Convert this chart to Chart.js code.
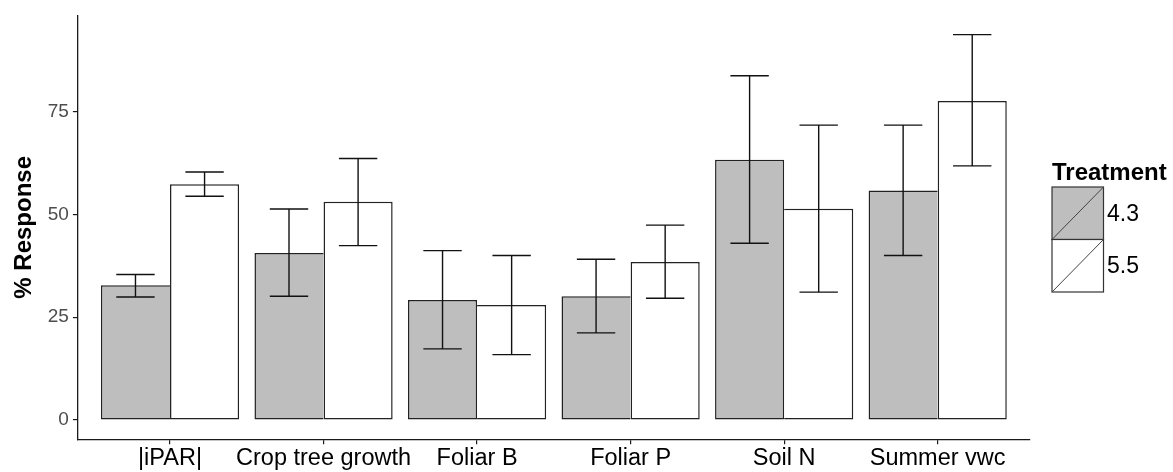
<!DOCTYPE html>
<html><head><meta charset="utf-8">
<style>html,body{margin:0;padding:0;background:#fff;overflow:hidden}#wrap{width:1173px;height:472px;position:relative}</style>
<script src="https://cdn.jsdelivr.net/npm/chart.js@4"></script>
</head><body><div id="wrap"><canvas id="c" width="1173" height="472"></canvas></div>
<script>
// ---- data ----
const categories = ['|iPAR|', 'Crop tree growth', 'Foliar B', 'Foliar P', 'Soil N', 'Summer vwc'];
const treatments = ['4.3', '5.5'];
const resp43 = [32.8, 40.6, 29.2, 30.1, 63.3, 55.8];
const lo43   = [29.9, 30.1, 17.3, 21.2, 43.0, 40.0];
const hi43   = [35.4, 51.3, 41.2, 39.1, 83.7, 71.7];
const resp55 = [57.3, 53.1, 28.0, 38.4, 51.4, 77.6];
const lo55   = [54.4, 42.4, 15.9, 29.6, 31.1, 61.8];
const hi55   = [60.3, 63.6, 40.0, 47.4, 71.7, 93.7];
const yTicks = [0, 25, 50, 75];
const yMin = -4.685, yMax = 98.385;

const FONT = "'Liberation Sans', Arial, sans-serif";
const AX = '#1a1a1a';
const BW = 1.5;

function pts(vals){ return vals.map((v,i)=>({x:i+1, y:v})); }

// the shorter bar of each pair leaves its shared edge to the taller one
function borderFor(ctx){
  const i = ctx.dataIndex, d = ctx.datasetIndex;
  const a = resp43[i], b = resp55[i];
  if (d === 0) return { top: BW, left: BW, bottom: BW, right: a >= b ? BW : 0 };
  return { top: BW, right: BW, bottom: BW, left: b > a ? BW : 0 };
}

const errorBars = {
  id: 'errorBars',
  afterDatasetsDraw(chart){
    const ctx = chart.ctx, xs = chart.scales.x, ys = chart.scales.y;
    const half = (xs.getPixelForValue(1.125) - xs.getPixelForValue(1));
    ctx.save();
    ctx.strokeStyle = '#111';
    ctx.lineWidth = 1.4;
    chart.data.datasets.forEach((ds, di) => {
      const meta = chart.getDatasetMeta(di);
      meta.data.forEach((bar, i) => {
        const cx = bar.x;
        const yl = ys.getPixelForValue(ds.errLo[i]);
        const yh = ys.getPixelForValue(ds.errHi[i]);
        ctx.beginPath();
        ctx.moveTo(cx, yl); ctx.lineTo(cx, yh);
        ctx.moveTo(cx - half, yl); ctx.lineTo(cx + half, yl);
        ctx.moveTo(cx - half, yh); ctx.lineTo(cx + half, yh);
        ctx.stroke();
      });
    });
    ctx.restore();
  }
};

const legendPlugin = {
  id: 'ggLegend',
  afterDraw(chart){
    const ctx = chart.ctx;
    ctx.save();
    ctx.fillStyle = '#000';
    ctx.font = `bold 24px ${FONT}`;
    ctx.textBaseline = 'alphabetic';
    ctx.textAlign = 'left';
    ctx.fillText('Treatment', 1052, 180);
    const kx = 1052, kw = 51.5, kh = 52.5;
    let ky = 187;
    chart.data.datasets.forEach((ds) => {
      ctx.fillStyle = ds.backgroundColor;
      ctx.fillRect(kx, ky, kw, kh);
      ctx.strokeStyle = '#333';
      ctx.lineWidth = 1.2;
      ctx.strokeRect(kx, ky, kw, kh);
      ctx.beginPath();
      ctx.lineWidth = 1;
      ctx.strokeStyle = '#444';
      ctx.moveTo(kx, ky + kh); ctx.lineTo(kx + kw, ky);
      ctx.stroke();
      ctx.fillStyle = '#000';
      ctx.font = `23px ${FONT}`;
      ctx.textBaseline = 'middle';
      ctx.fillText(ds.label, 1107, ky + kh/2 + 1);
      ky += kh;
    });
    ctx.restore();
  }
};

new Chart(document.getElementById('c'), {
  type: 'bar',
  data: {
    datasets: [
      { label: treatments[0], data: pts(resp43), errLo: lo43, errHi: hi43,
        backgroundColor: '#bebebe', borderColor: '#222', borderWidth: borderFor, borderSkipped: false,
        categoryPercentage: 0.9, barPercentage: 1.0 },
      { label: treatments[1], data: pts(resp55), errLo: lo55, errHi: hi55,
        backgroundColor: '#ffffff', borderColor: '#222', borderWidth: borderFor, borderSkipped: false,
        categoryPercentage: 0.9, barPercentage: 1.0 }
    ]
  },
  options: {
    responsive: false,
    animation: false,
    devicePixelRatio: 1,
    layout: { padding: { left: 0, right: 143.2, top: 13.3, bottom: 0 } },
    plugins: { legend: { display: false }, tooltip: { enabled: false } },
    scales: {
      x: {
        type: 'linear', min: 0.4, max: 6.6, offset: false,
        afterBuildTicks: (s) => { s.ticks = categories.map((c, i) => ({ value: i + 1 })); },
        afterFit: (s) => { s.height = 32.7; },
        ticks: {
          callback: (v) => categories[Math.round(v) - 1],
          autoSkip: false, maxRotation: 0, minRotation: 0,
          font: { family: FONT, size: 23.5 }, color: '#000', padding: 0
        },
        grid: { display: true, offset: false, drawOnChartArea: false, tickLength: 5, color: AX, lineWidth: 1.2 },
        border: { display: true, color: AX, width: 1.3 }
      },
      y: {
        min: yMin, max: yMax,
        afterBuildTicks: (s) => { s.ticks = yTicks.map(v => ({ value: v })); },
        afterFit: (s) => { s.width = 77.9; },
        ticks: { font: { family: FONT, size: 19 }, color: '#4d4d4d', padding: 4 },
        grid: { display: true, drawOnChartArea: false, tickLength: 5, color: AX, lineWidth: 1.2 },
        border: { display: true, color: AX, width: 1.3 },
        title: { display: true, text: '% Response', font: { family: FONT, size: 24, weight: 'bold' }, color: '#000', padding: { top: 9.5, bottom: 0 } }
      }
    }
  },
  plugins: [errorBars, legendPlugin]
});
</script></body></html>
